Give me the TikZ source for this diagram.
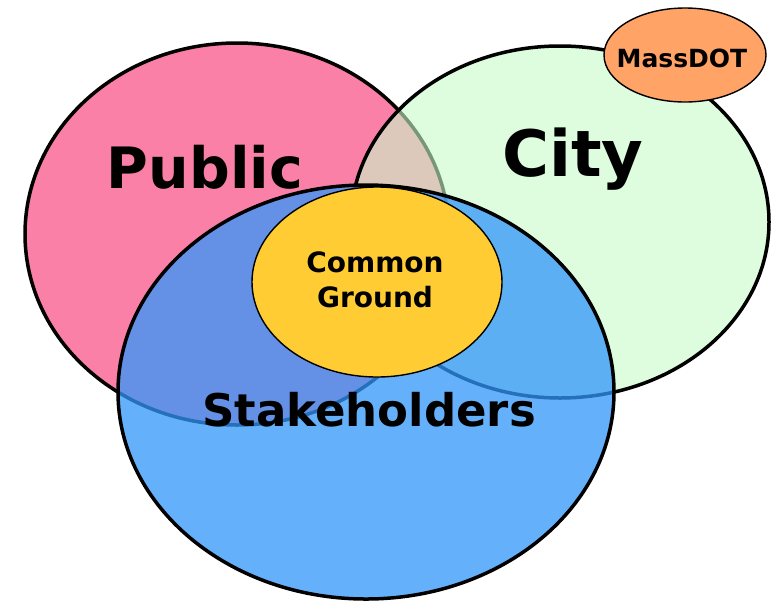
\documentclass[tikz,border=0pt]{standalone}
\usepackage{fontspec}
\setmainfont{DejaVu Sans}
\usetikzlibrary{shapes.geometric}
\definecolor{publicpink}{RGB}{250,128,168}
\definecolor{citygreen}{RGB}{200,250,200}
\definecolor{stakeblue}{RGB}{50,150,250}
\definecolor{commonyellow}{RGB}{255,204,51}
\definecolor{massorange}{RGB}{255,163,102}
\tikzset{
  bigset/.style={ellipse, draw=black, line width=3.5pt, inner sep=0pt},
  smallset/.style={ellipse, draw=black, line width=1.4pt, inner sep=0pt},
  biglabel/.style={font=\bfseries\fontsize{#1}{#1}\selectfont, inner sep=0pt, anchor=center},
}
\begin{document}
\begin{tikzpicture}[x=1pt,y=-1pt]
  \useasboundingbox (0,0) rectangle (775,603);
  % the three overlapping groups
  \node[bigset, fill=publicpink, minimum width=424pt, minimum height=382pt] (public) at (237,234) {};
  \node[bigset, fill=citygreen, fill opacity=0.6, minimum width=418pt, minimum height=352pt] (city) at (560,222) {};
  \node[bigset, fill=stakeblue, fill opacity=0.75, minimum width=496pt, minimum height=414pt] (stake) at (366,392) {};
  % shared area and the state agency
  \node[smallset, fill=commonyellow, minimum width=250pt, minimum height=190pt] (common) at (377,282) {};
  \node[smallset, fill=massorange, minimum width=162pt, minimum height=94pt] (massdot) at (685,55) {};
  % labels
  \node[biglabel=57] (publictxt) at (205,167) {\vphantom{P}Public};
  \node[biglabel=64] (citytxt) at (573,159) {City};
  \node[biglabel=45] (staketxt) at (369,410) {Stakeholders};
  \node[biglabel=28] (commontxt1) at (375,262) {Common};
  \node[biglabel=28] (commontxt2) at (375,297) {Ground};
  \node[biglabel=25] (masstxt) at (682,58) {MassDOT};
\end{tikzpicture}
\end{document}
